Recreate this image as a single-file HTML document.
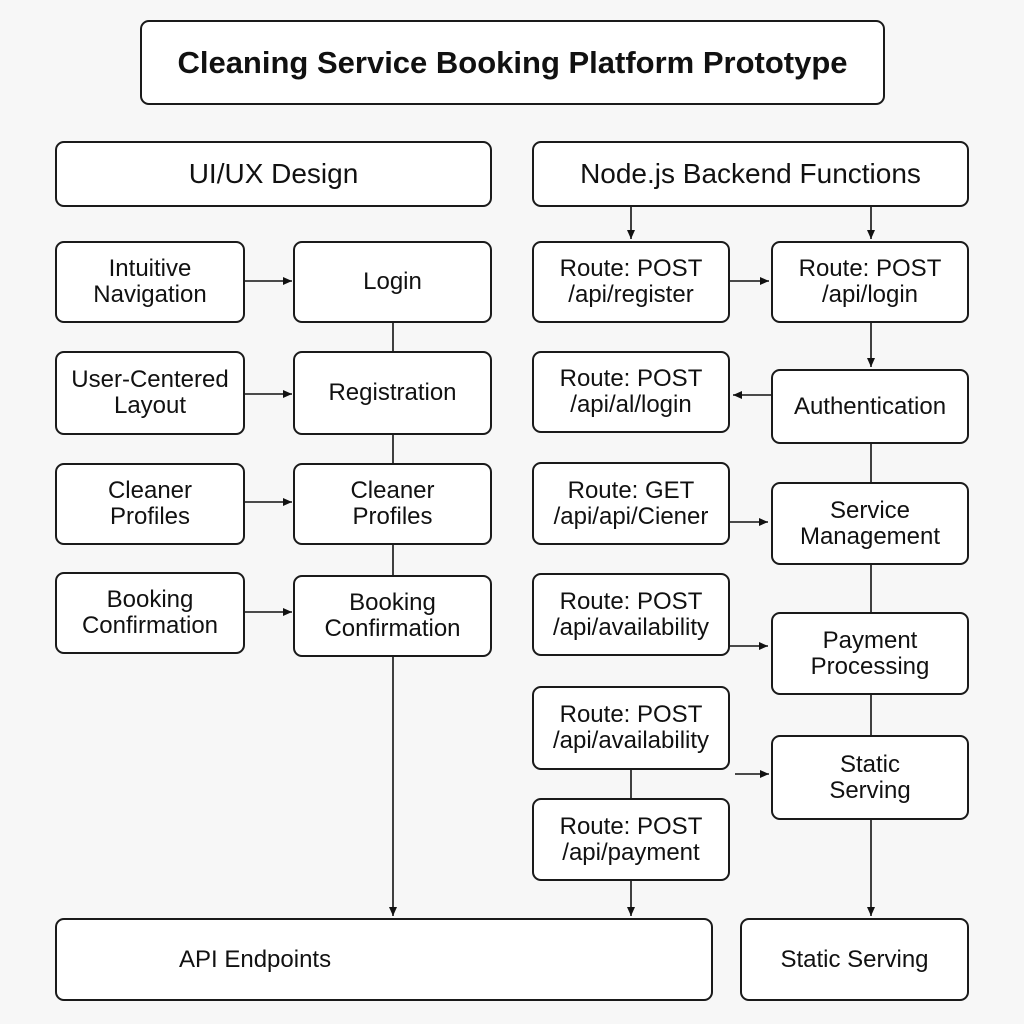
<!DOCTYPE html>
<html><head><style>
body{margin:0;background:#f7f7f7;}
.b{position:absolute;box-sizing:border-box;border:2px solid #1a1a1a;border-radius:9px;background:#fff;display:flex;align-items:center;justify-content:center;text-align:center;font-family:"Liberation Sans",sans-serif;font-size:24px;line-height:26px;color:#111;}
</style></head><body>
<div style="position:relative;width:1024px;height:1024px;overflow:hidden">
<svg width="1024" height="1024" style="position:absolute;left:0;top:0">
<defs><marker id="a" markerWidth="10" markerHeight="10" refX="9" refY="5" orient="auto" markerUnits="userSpaceOnUse"><path d="M0,1 L9,5 L0,9 z" fill="#111"/></marker></defs>
<g stroke="#111" stroke-width="1.6" fill="none">
<line x1="393" y1="323" x2="393" y2="916" marker-end="url(#a)"/>
<line x1="245" y1="281" x2="292" y2="281" marker-end="url(#a)"/>
<line x1="245" y1="394" x2="292" y2="394" marker-end="url(#a)"/>
<line x1="245" y1="502" x2="292" y2="502" marker-end="url(#a)"/>
<line x1="245" y1="612" x2="292" y2="612" marker-end="url(#a)"/>
<line x1="631" y1="207" x2="631" y2="239" marker-end="url(#a)"/>
<line x1="871" y1="207" x2="871" y2="239" marker-end="url(#a)"/>
<line x1="730" y1="281" x2="769" y2="281" marker-end="url(#a)"/>
<line x1="871" y1="323" x2="871" y2="367" marker-end="url(#a)"/>
<line x1="771" y1="395" x2="733" y2="395" marker-end="url(#a)"/>
<line x1="871" y1="444" x2="871" y2="482"/>
<line x1="730" y1="522" x2="768" y2="522" marker-end="url(#a)"/>
<line x1="871" y1="565" x2="871" y2="612"/>
<line x1="730" y1="646" x2="768" y2="646" marker-end="url(#a)"/>
<line x1="871" y1="695" x2="871" y2="735"/>
<line x1="735" y1="774" x2="769" y2="774" marker-end="url(#a)"/>
<line x1="631" y1="770" x2="631" y2="798"/>
<line x1="631" y1="881" x2="631" y2="916" marker-end="url(#a)"/>
<line x1="871" y1="820" x2="871" y2="916" marker-end="url(#a)"/>
</g></svg>
<div class="b" style="left:140px;top:20px;width:745px;height:85px;font-size:31px;font-weight:bold">Cleaning Service Booking Platform Prototype</div>
<div class="b" style="left:55px;top:141px;width:437px;height:66px;font-size:28px">UI/UX Design</div>
<div class="b" style="left:532px;top:141px;width:437px;height:66px;font-size:28px">Node.js Backend Functions</div>
<div class="b" style="left:55px;top:241px;width:190px;height:82px">Intuitive<br>Navigation</div>
<div class="b" style="left:55px;top:351px;width:190px;height:84px">User-Centered<br>Layout</div>
<div class="b" style="left:55px;top:463px;width:190px;height:82px">Cleaner<br>Profiles</div>
<div class="b" style="left:55px;top:572px;width:190px;height:82px">Booking<br>Confirmation</div>
<div class="b" style="left:293px;top:241px;width:199px;height:82px">Login</div>
<div class="b" style="left:293px;top:351px;width:199px;height:84px">Registration</div>
<div class="b" style="left:293px;top:463px;width:199px;height:82px">Cleaner<br>Profiles</div>
<div class="b" style="left:293px;top:575px;width:199px;height:82px">Booking<br>Confirmation</div>
<div class="b" style="left:532px;top:241px;width:198px;height:82px">Route: POST<br>/api/register</div>
<div class="b" style="left:532px;top:351px;width:198px;height:82px">Route: POST<br>/api/al/login</div>
<div class="b" style="left:532px;top:462px;width:198px;height:83px">Route: GET<br>/api/api/Ciener</div>
<div class="b" style="left:532px;top:573px;width:198px;height:83px">Route: POST<br>/api/availability</div>
<div class="b" style="left:532px;top:686px;width:198px;height:84px">Route: POST<br>/api/availability</div>
<div class="b" style="left:532px;top:798px;width:198px;height:83px">Route: POST<br>/api/payment</div>
<div class="b" style="left:771px;top:241px;width:198px;height:82px">Route: POST<br>/api/login</div>
<div class="b" style="left:771px;top:369px;width:198px;height:75px">Authentication</div>
<div class="b" style="left:771px;top:482px;width:198px;height:83px">Service<br>Management</div>
<div class="b" style="left:771px;top:612px;width:198px;height:83px">Payment<br>Processing</div>
<div class="b" style="left:771px;top:735px;width:198px;height:85px">Static<br>Serving</div>
<div class="b" style="left:55px;top:918px;width:658px;height:83px;justify-content:flex-start;padding-left:122px">API Endpoints</div>
<div class="b" style="left:740px;top:918px;width:229px;height:83px">Static Serving</div>
</div>
</body></html>
